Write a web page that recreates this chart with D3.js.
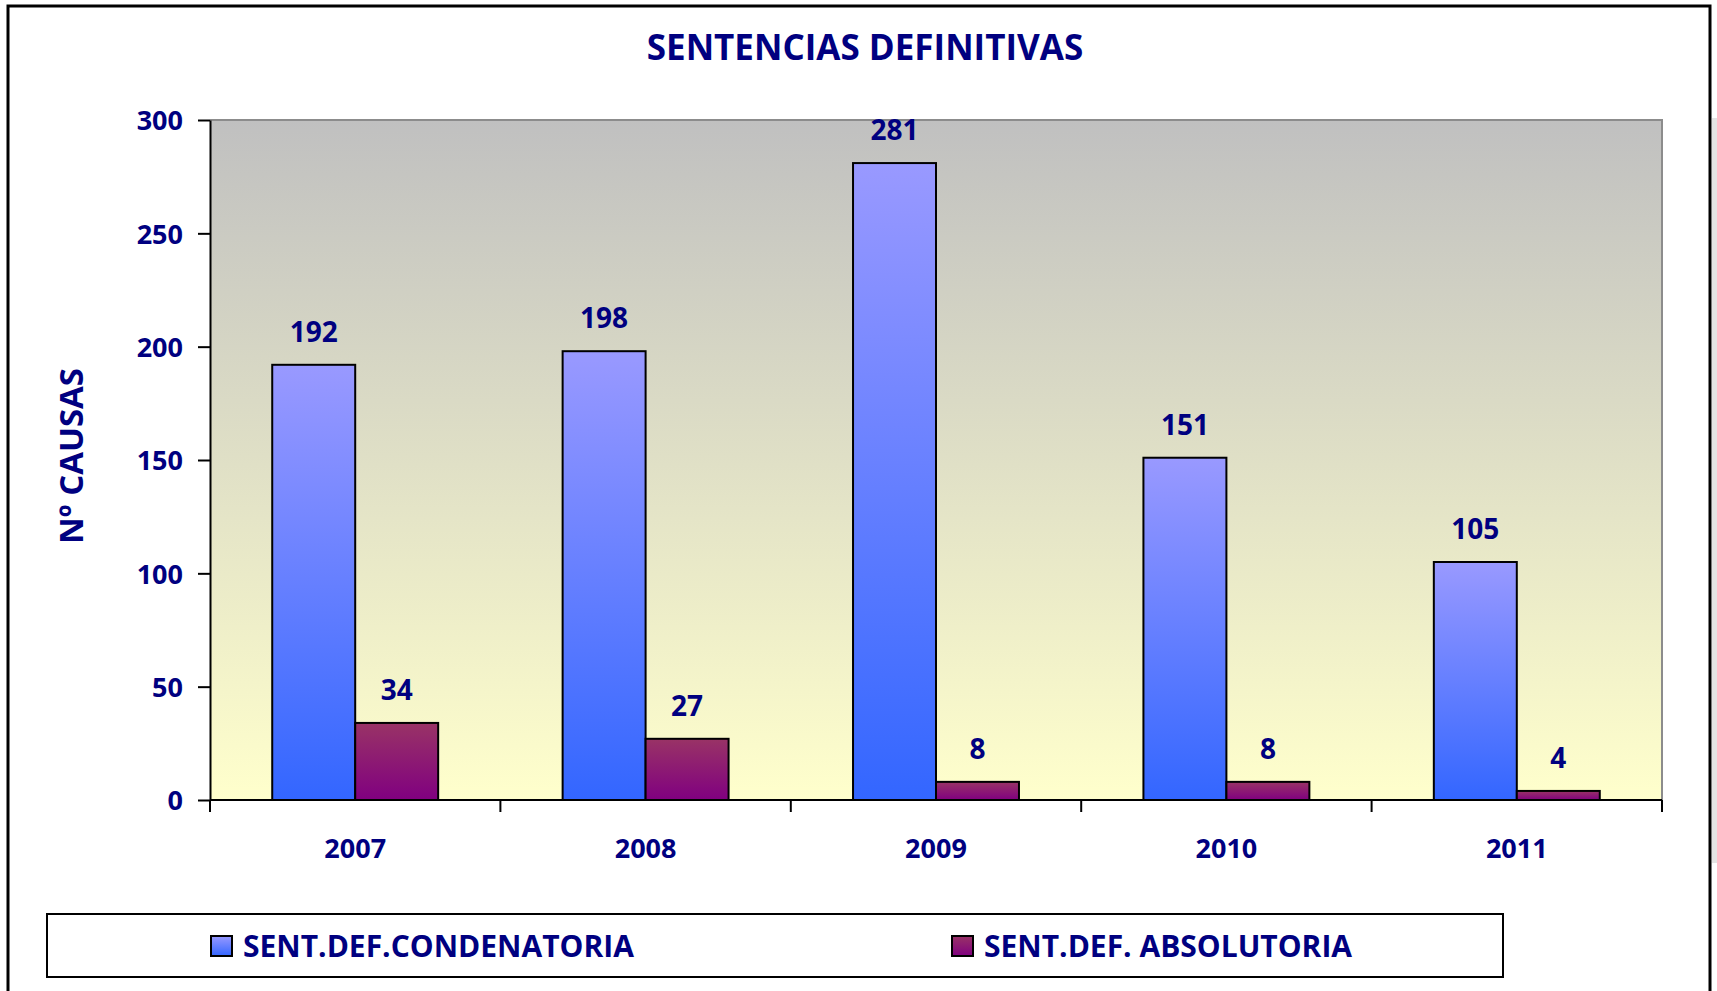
<!DOCTYPE html>
<html>
<head>
<meta charset="utf-8">
<script src="https://cdn.jsdelivr.net/npm/d3@7"></script>
<style>
  body { margin: 0; background: #fff; }
  text { font-family: "Open Sans", Lato, sans-serif; font-weight: bold; fill: #000080; }
</style>
</head>
<body>
<script>
"use strict";

var years = ["2007", "2008", "2009", "2010", "2011"];
var seriesNames = ["SENT.DEF.CONDENATORIA", "SENT.DEF. ABSOLUTORIA"];
var condenatoria = [192, 198, 281, 151, 105];
var absolutoria = [34, 27, 8, 8, 4];
var yTicks = [0, 50, 100, 150, 200, 250, 300];

function init() {
  var w = 1717;
  var h = 991;
  var left = 210, right = 1662, top = 120, bottom = 800;

  var svg = d3.select("body")
    .append("svg")
    .attr("width", w)
    .attr("height", h);

  var defs = svg.append("defs");

  function vGrad(id, c1, c2) {
    var g = defs.append("linearGradient")
      .attr("id", id)
      .attr("x1", 0).attr("y1", 0).attr("x2", 0).attr("y2", 1);
    g.append("stop").attr("offset", "0%").attr("stop-color", c1);
    g.append("stop").attr("offset", "100%").attr("stop-color", c2);
  }
  vGrad("bgGrad", "#c0c0c0", "#ffffcc");
  vGrad("blueGrad", "#9999ff", "#3366ff");
  vGrad("purpleGrad", "#993366", "#800080");

  // white chart area + outer frame
  svg.append("rect")
    .attr("x", 1712).attr("y", 118).attr("width", 5).attr("height", 745)
    .attr("fill", "#e4e4e4");
  svg.append("rect")
    .attr("x", 8).attr("y", 6).attr("width", 1702).attr("height", 1010)
    .attr("fill", "#fff")
    .attr("stroke", "#000")
    .attr("stroke-width", 3);

  var xScale = d3.scaleBand()
    .domain(years)
    .range([left, right])
    .paddingInner(0)
    .paddingOuter(0);

  //two bars per year, gap of 150% of a bar
  var xInner = d3.scaleBand()
    .domain([0, 1])
    .range([0, xScale.bandwidth()])
    .paddingInner(0)
    .paddingOuter(0.75);

  var yScale = d3.scaleLinear()
    .domain([0, 300])
    .range([bottom, top]);

  // plot area
  svg.append("rect")
    .attr("x", left).attr("y", top)
    .attr("width", right - left).attr("height", bottom - top)
    .attr("fill", "url(#bgGrad)");
  svg.append("path")
    .attr("d", "M" + left + "," + top + "H" + right + "V" + bottom)
    .attr("fill", "none")
    .attr("stroke", "#8c8c8c")
    .attr("stroke-width", 2);

  // title
  svg.append("text")
    .attr("x", 865).attr("y", 60)
    .attr("text-anchor", "middle")
    .attr("font-size", "35px")
    .text("SENTENCIAS DEFINITIVAS");

  // y axis
  var yAxis = svg.append("g")
    .attr("transform", "translate(" + left + ",0)")
    .call(d3.axisLeft(yScale)
      .tickValues(yTicks)
      .tickSize(12)
      .tickSizeOuter(0)
      .tickPadding(15));
  yAxis.select(".domain").attr("stroke", "#000").attr("stroke-width", 2);
  yAxis.selectAll(".tick line").attr("stroke", "#000").attr("stroke-width", 2);
  yAxis.selectAll(".tick text")
    .attr("font-size", "27px")
    .attr("fill", "#000080")
    .attr("dy", "0.36em");

  svg.append("text")
    .attr("transform", "translate(83,456) rotate(-90)")
    .attr("text-anchor", "middle")
    .attr("font-size", "33px")
    .text("Nº CAUSAS");

  // bars
  var seriesData = [condenatoria, absolutoria];
  var fills = ["url(#blueGrad)", "url(#purpleGrad)"];

  seriesData.forEach(function (vals, s) {
    svg.selectAll("rect.s" + s)
      .data(vals)
      .enter()
      .append("rect")
      .attr("class", "s" + s)
      .attr("x", function (d, i) {
        return xScale(years[i]) + xInner(s);
      })
      .attr("y", function (d) {
        return yScale(d);
      })
      .attr("width", xInner.bandwidth())
      .attr("height", function (d) {
        return bottom - yScale(d);
      })
      .attr("fill", fills[s])
      .attr("stroke", "#000")
      .attr("stroke-width", 2);

    svg.selectAll("text.l" + s)
      .data(vals)
      .enter()
      .append("text")
      .attr("class", "l" + s)
      .attr("x", function (d, i) {
        return xScale(years[i]) + xInner(s) + xInner.bandwidth() / 2;
      })
      .attr("y", function (d) {
        return yScale(d) - 23;
      })
      .attr("text-anchor", "middle")
      .attr("font-size", "28px")
      .text(function (d) {
        return d;
      });
  });

  // x axis, ticks on the category boundaries
  svg.append("line")
    .attr("x1", left).attr("x2", right)
    .attr("y1", bottom).attr("y2", bottom)
    .attr("stroke", "#000").attr("stroke-width", 2);

  var boundaries = years.map(function (d) { return xScale(d); }).concat([right]);
  svg.selectAll("line.xtick")
    .data(boundaries)
    .enter()
    .append("line")
    .attr("class", "xtick")
    .attr("x1", function (d) { return d; })
    .attr("x2", function (d) { return d; })
    .attr("y1", bottom)
    .attr("y2", bottom + 12)
    .attr("stroke", "#000")
    .attr("stroke-width", 2);

  svg.selectAll("text.xlab")
    .data(years)
    .enter()
    .append("text")
    .attr("class", "xlab")
    .attr("x", function (d) { return xScale(d) + xScale.bandwidth() / 2; })
    .attr("y", 858)
    .attr("text-anchor", "middle")
    .attr("font-size", "27px")
    .text(function (d) { return d; });

  // legend
  svg.append("rect")
    .attr("x", 47).attr("y", 914)
    .attr("width", 1456).attr("height", 63)
    .attr("fill", "#fff")
    .attr("stroke", "#000")
    .attr("stroke-width", 2);

  var legendX = [211, 952];
  var legend = svg.selectAll("g.legend")
    .data(seriesNames)
    .enter()
    .append("g")
    .attr("class", "legend")
    .attr("transform", function (d, i) {
      return "translate(" + legendX[i] + ",936)";
    });
  legend.append("rect")
    .attr("width", 21).attr("height", 20)
    .attr("fill", function (d, i) { return fills[i]; })
    .attr("stroke", "#000")
    .attr("stroke-width", 2);
  legend.append("text")
    .attr("x", 32).attr("y", 21)
    .attr("font-size", "30px")
    .text(function (d) { return d; });
}

window.onload = init;
</script>
</body>
</html>
